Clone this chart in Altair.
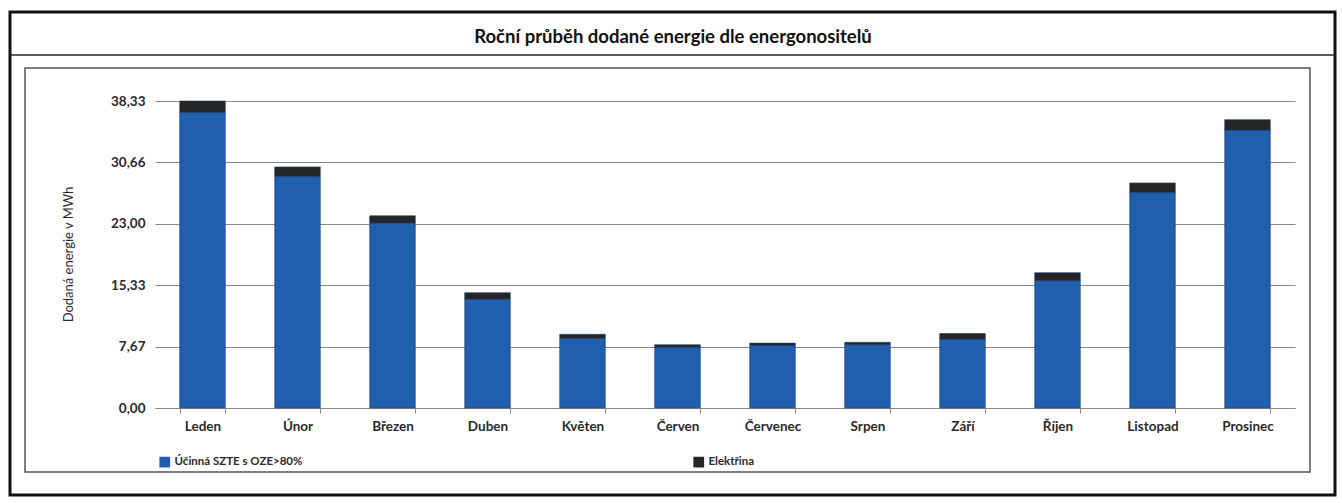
import altair as alt
import pandas as pd

# Monthly delivered energy by carrier (MWh)
months = ["Leden", "Únor", "Březen", "Duben", "Květen", "Červen",
          "Červenec", "Srpen", "Září", "Říjen", "Listopad", "Prosinec"]
szte = [36.9, 28.9, 23.1, 13.6, 8.7, 7.6, 7.8, 7.9, 8.6, 15.9, 26.9, 34.7]
elektrina = [1.43, 1.2, 0.9, 0.8, 0.5, 0.3, 0.3, 0.3, 0.7, 1.0, 1.2, 1.3]
series_names = ["Účinná SZTE s OZE>80%", "Elektřina"]
series_colors = ["#1f5fae", "#262424"]
y_ticks = [0, 7.666, 15.332, 22.998, 30.664, 38.33]
title_text = "Roční průběh dodané energie dle energonositelů"
y_title = "Dodaná energie v MWh"

FONT = "Lato"

rows = []
for m, a, b in zip(months, szte, elektrina):
    rows.append({"mesic": m, "serie": series_names[0], "hodnota": a, "poradi": 0})
    rows.append({"mesic": m, "serie": series_names[1], "hodnota": b, "poradi": 1})
df = pd.DataFrame(rows)

one = pd.DataFrame({"k": [0]})

bars = alt.Chart(df).mark_bar(stroke="#17427a", strokeWidth=0.6).encode(
    x=alt.X("mesic:N", sort=months,
            scale=alt.Scale(paddingInner=0.52, paddingOuter=0.26),
            axis=alt.Axis(title=None, labelAngle=0, labelFont=FONT, labelFontSize=13.5,
                          labelFontWeight="bold", labelColor="#2a2a2a", labelPadding=6,
                          domainColor="#8a8a8a", tickColor="#8a8a8a", tickBand="extent",
                          tickSize=5, grid=False)),
    y=alt.Y("hodnota:Q", stack="zero",
            scale=alt.Scale(domain=[0, 38.33], nice=False),
            axis=alt.Axis(values=y_ticks,
                          labelExpr="replace(format(datum.value, '.2f'), '.', ',')",
                          labelFont=FONT, labelFontSize=13.5, labelFontWeight="bold",
                          labelColor="#2a2a2a", labelPadding=10, ticks=False, domain=False,
                          grid=True, gridColor="#8a8a8a", gridWidth=1,
                          title=y_title, titleFont=FONT, titleFontSize=13,
                          titleFontWeight="normal", titleColor="#2a2a2a",
                          titleX=-80, titleY=153, titleAngle=-90, titleAlign="center",
                          titleBaseline="bottom")),
    color=alt.Color("serie:N",
                    scale=alt.Scale(domain=series_names, range=series_colors),
                    legend=alt.Legend(title=None, orient="none", legendX=4, legendY=355,
                                      direction="horizontal", symbolType="square",
                                      symbolSize=115, symbolStrokeWidth=0,
                                      labelFont=FONT, labelFontSize=11.5, labelColor="#2a2a2a",
                                      labelFontWeight="bold", columnPadding=390,
                                      labelLimit=300)),
    order=alt.Order("poradi:Q"),
)

# Decorative frames around the chart
outer = alt.Chart(one).mark_rect(fill=None, stroke="#111111", strokeWidth=3).encode(
    x=alt.value(-145), x2=alt.value(1180), y=alt.value(-89), y2=alt.value(394))
inner = alt.Chart(one).mark_rect(fill=None, stroke="#555555", strokeWidth=1.5).encode(
    x=alt.value(-130), x2=alt.value(1155), y=alt.value(-33), y2=alt.value(371))
title_rule = alt.Chart(one).mark_rule(stroke="#222222", strokeWidth=1.5).encode(
    x=alt.value(-145), x2=alt.value(1180), y=alt.value(-46))
title = alt.Chart(one).mark_text(text=title_text, font=FONT, fontSize=18.5,
                                 fontWeight="bold", color="#111111",
                                 align="center", baseline="middle").encode(
    x=alt.value(518), y=alt.value(-64))

chart = alt.layer(outer, inner, title_rule, title, bars).properties(
    width=1140, height=307,
    padding={"left": 155, "top": 101, "right": 47, "bottom": 95},
    autosize=alt.AutoSizeParams(type="none"),
    background="white",
).configure_view(stroke=None)

chart.save("out.html", embed_options={"renderer": "svg", "actions": False})
